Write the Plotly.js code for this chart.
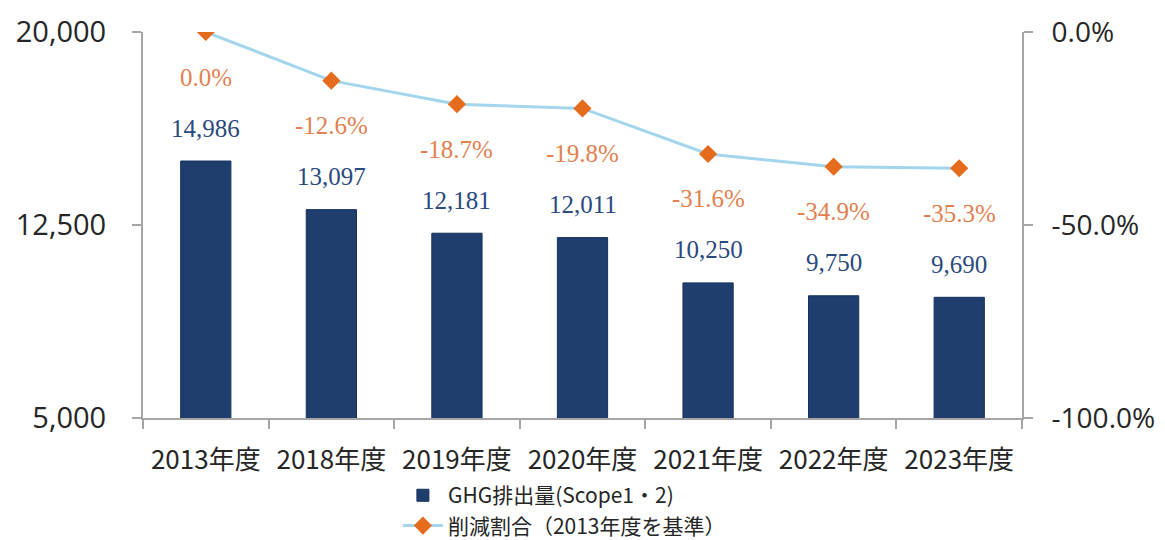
<!DOCTYPE html>
<html>
<head>
<meta charset="utf-8">
<script src="https://cdn.plot.ly/plotly-3.0.1.min.js"></script>
<style>html,body{margin:0;padding:0;background:#fff;}#chart{width:1165px;height:540px;}</style>
</head>
<body>
<div id="chart"></div>
<script>
const categories = ["2013年度","2018年度","2019年度","2020年度","2021年度","2022年度","2023年度"];
const emissions = [14986, 13097, 12181, 12011, 10250, 9750, 9690];
const reductionRate = [0.0, -0.126, -0.187, -0.198, -0.316, -0.349, -0.353];
const barName = "GHG排出量(Scope1・2)";
const lineName = "削減割合（2013年度を基準）";
const leftTicks = [5000, 12500, 20000];
const rightTicks = [-1, -0.5, 0];

const barColor = "#1f3e6e";
const lineColor = "#a3d6ec";
const markerColor = "#e46c1c";
const axisColor = "#a6a6a6";

const pctText = v => (v * 100).toFixed(1) + "%";

const traces = [
  {
    type: "bar", name: barName, x: categories, y: emissions,
    marker: {color: barColor, line: {color: "#16325c", width: 1}},
    hoverinfo: "x+y"
  },
  {
    type: "scatter", mode: "lines+markers", name: lineName, x: categories, y: reductionRate,
    yaxis: "y2",
    line: {color: lineColor, width: 3},
    marker: {symbol: "diamond", size: 14, color: markerColor}
  }
];

const annotations = [];
categories.forEach((c, i) => {
  annotations.push({
    x: c, y: emissions[i], xref: "x", yref: "y",
    text: emissions[i].toLocaleString("en-US"),
    showarrow: false, yanchor: "middle", yshift: 33,
    font: {family: "Liberation Serif, serif", size: 25, color: "#2b4a7e"}
  });
  annotations.push({
    x: c, y: reductionRate[i], xref: "x", yref: "y2",
    text: pctText(reductionRate[i]),
    showarrow: false, yanchor: "middle", yshift: -45,
    font: {family: "Liberation Serif, serif", size: 25, color: "#e3804f"}
  });
});

const layout = {
  width: 1165, height: 540,
  margin: {l: 143, r: 143, t: 32, b: 122, autoexpand: false},
  paper_bgcolor: "#ffffff", plot_bgcolor: "#ffffff",
  bargap: 0.6,
  showlegend: true,
  legend: {
    x: 0.29, xanchor: "left", y: -0.148, yanchor: "top",
    orientation: "v", tracegroupgap: 0, itemwidth: 40,
    font: {family: "Noto Sans CJK JP, sans-serif", size: 21, color: "#262626"}
  },
  xaxis: {
    type: "category", range: [-0.5, 6.5],
    showline: true, linecolor: axisColor, linewidth: 2,
    ticks: "outside", tickson: "boundaries", ticklen: 9, tickcolor: axisColor, tickwidth: 2,
    tickfont: {family: "Noto Sans CJK JP, sans-serif", size: 26, color: "#262626"},
    ticklabelstandoff: 18,
    showgrid: false, zeroline: false, fixedrange: true
  },
  yaxis: {
    range: [5000, 20000], tickvals: leftTicks, tickformat: ",d",
    showline: true, linecolor: axisColor, linewidth: 2,
    ticks: "outside", ticklen: 9, tickcolor: axisColor, tickwidth: 2,
    tickfont: {family: "Open Sans, sans-serif", size: 29, color: "#262626"},
    ticklabelstandoff: 20,
    showgrid: false, zeroline: false, fixedrange: true
  },
  yaxis2: {
    overlaying: "y", side: "right",
    range: [-1, 0], tickvals: rightTicks, ticktext: rightTicks.map(pctText),
    showline: true, linecolor: axisColor, linewidth: 2,
    ticks: "outside", ticklen: 9, tickcolor: axisColor, tickwidth: 2,
    tickfont: {family: "Open Sans, sans-serif", size: 28, color: "#262626"},
    ticklabelstandoff: 13,
    showgrid: false, zeroline: false, fixedrange: true
  },
  annotations: annotations
};

Plotly.newPlot("chart", traces, layout, {displayModeBar: false, staticPlot: true});
</script>
</body>
</html>
